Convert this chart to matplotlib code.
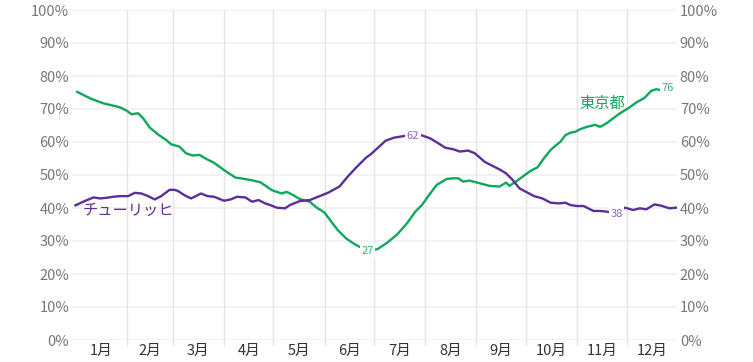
import matplotlib.pyplot as plt

plt.rcParams['font.family'] = ['Noto Sans CJK JP', 'DejaVu Sans']

# day-of-year (0 = 1 Jan) and share in %
tokyo_days = [1, 9, 17, 23, 27, 31, 34, 38, 41, 45, 50, 55, 58, 63, 67, 71, 75, 80, 84, 90,
              97, 100, 106, 112, 116, 119, 125, 128, 132, 136, 142, 146, 151, 155, 159, 164,
              169, 172, 177, 183, 189, 195, 201, 206, 210, 215, 219, 225, 229, 232, 235, 239,
              245, 251, 257, 261, 263, 267, 271, 276, 280, 284, 288, 291, 294, 297, 300, 303,
              306, 310, 315, 318, 322, 326, 330, 335, 340, 345, 349, 352, 354]
tokyo_vals = [75.2, 73.2, 71.7, 71.0, 70.5, 69.5, 68.4, 68.7, 67.2, 64.4, 62.3, 60.6, 59.3,
              58.6, 56.6, 55.9, 56.1, 54.7, 53.7, 51.5, 49.2, 49.0, 48.5, 47.8, 46.5, 45.4,
              44.4, 44.9, 43.9, 42.7, 41.9, 40.2, 38.6, 35.9, 33.3, 30.8, 29.1, 28.3, 27.0,
              27.5, 29.5, 32.0, 35.4, 38.9, 40.9, 44.4, 47.0, 48.8, 49.0, 49.0, 48.0, 48.3,
              47.5, 46.7, 46.5, 47.7, 46.7, 48.0, 49.5, 51.3, 52.3, 55.1, 57.6, 58.9, 60.1,
              62.1, 62.8, 63.1, 63.9, 64.6, 65.2, 64.6, 65.7, 67.2, 68.7, 70.2, 72.0, 73.4,
              75.5, 76.0, 75.8]

zurich_days = [0, 6, 11, 15, 19, 23, 27, 32, 36, 40, 44, 48, 52, 57, 60, 62, 66, 70, 73, 76,
               80, 84, 90, 94, 98, 103, 107, 111, 115, 118, 122, 127, 130, 136, 142, 147, 153,
               160, 165, 170, 176, 179, 183, 188, 193, 199, 204, 210, 215, 220, 224, 229, 233,
               238, 242, 248, 253, 257, 261, 265, 269, 273, 278, 283, 288, 293, 297, 300, 304,
               308, 314, 318, 322, 328, 333, 338, 342, 346, 351, 355, 360, 364]
zurich_vals = [40.8, 42.2, 43.2, 42.9, 43.1, 43.4, 43.6, 43.6, 44.6, 44.4, 43.6, 42.6, 43.6,
               45.5, 45.5, 45.2, 43.9, 42.9, 43.6, 44.4, 43.6, 43.4, 42.2, 42.6, 43.4, 43.2,
               41.9, 42.4, 41.4, 40.9, 40.1, 39.9, 40.9, 42.1, 42.4, 43.4, 44.6, 46.5, 49.5,
               52.2, 55.2, 56.3, 58.1, 60.4, 61.3, 61.8, 62.0, 62.0, 61.1, 59.6, 58.3, 57.8,
               57.1, 57.4, 56.6, 54.0, 52.7, 51.7, 50.5, 48.5, 46.0, 44.9, 43.6, 42.9, 41.6,
               41.4, 41.6, 40.9, 40.6, 40.6, 39.1, 39.1, 38.9, 38.3, 40.1, 39.4, 39.9, 39.6,
               41.1, 40.7, 39.9, 40.1]

months = ['1月', '2月', '3月', '4月', '5月', '6月', '7月', '8月', '9月', '10月', '11月', '12月']
month_starts = [0, 31, 59, 90, 120, 151, 181, 212, 243, 273, 304, 334, 365]
yticks = [0, 10, 20, 30, 40, 50, 60, 70, 80, 90, 100]

green = '#0fa65e'
purple = '#5b2e98'
green_lt = '#2db877'
purple_lt = '#8a62c0'

fig = plt.figure(figsize=(7.53, 3.62), dpi=100)
ax = fig.add_axes([72 / 753, 22 / 362, 605 / 753, 330 / 362])

ax.set_xlim(-2.1, 364.6)
ax.set_ylim(0, 100)

for y in yticks:
    ax.axhline(y, color='#f0f0f0', lw=1.2, zorder=0)
for d in month_starts[1:-1]:
    ax.axvline(d, ymin=-0.016, ymax=1, color='#e4e4e4', lw=1.0, zorder=0, clip_on=False)

ax.plot(tokyo_days, tokyo_vals, color=green, lw=1.7, zorder=2)
ax.plot(zurich_days, zurich_vals, color=purple, lw=1.7, zorder=2)

box = dict(boxstyle='square,pad=0.15', fc='white', ec='none')
ax.text(177, 27.0, '27', color=green_lt, fontsize=8, ha='center', va='center', bbox=box, zorder=3)
ax.text(359, 76.4, '76', color=green_lt, fontsize=8, ha='center', va='center', bbox=box, zorder=3)
ax.text(204.5, 61.8, '62', color=purple_lt, fontsize=8, ha='center', va='center', bbox=box, zorder=3)
ax.text(328, 38.3, '38', color=purple_lt, fontsize=8, ha='center', va='center', bbox=box, zorder=3)

ax.text(4.5, 39.3, 'チューリッヒ', color=purple, fontsize=11, ha='left', va='center', zorder=3)
ax.text(319, 71.8, '東京都', color=green, fontsize=11, ha='center', va='center', zorder=3)

mids = [(month_starts[i] + month_starts[i + 1]) / 2 for i in range(12)]
ax.set_xticks(mids)
ax.set_xticklabels(months, fontsize=10.5, color='#333333')
ax.set_yticks(yticks)
ax.set_yticklabels([f'{y}%' for y in yticks], fontsize=10.5, color='#777777')
ax.tick_params(axis='both', length=0)
ax.tick_params(axis='x', pad=3)
ax.tick_params(axis='y', pad=2, labelright=True)

for s in ax.spines.values():
    s.set_visible(False)

fig.savefig('out.png', dpi=100)
